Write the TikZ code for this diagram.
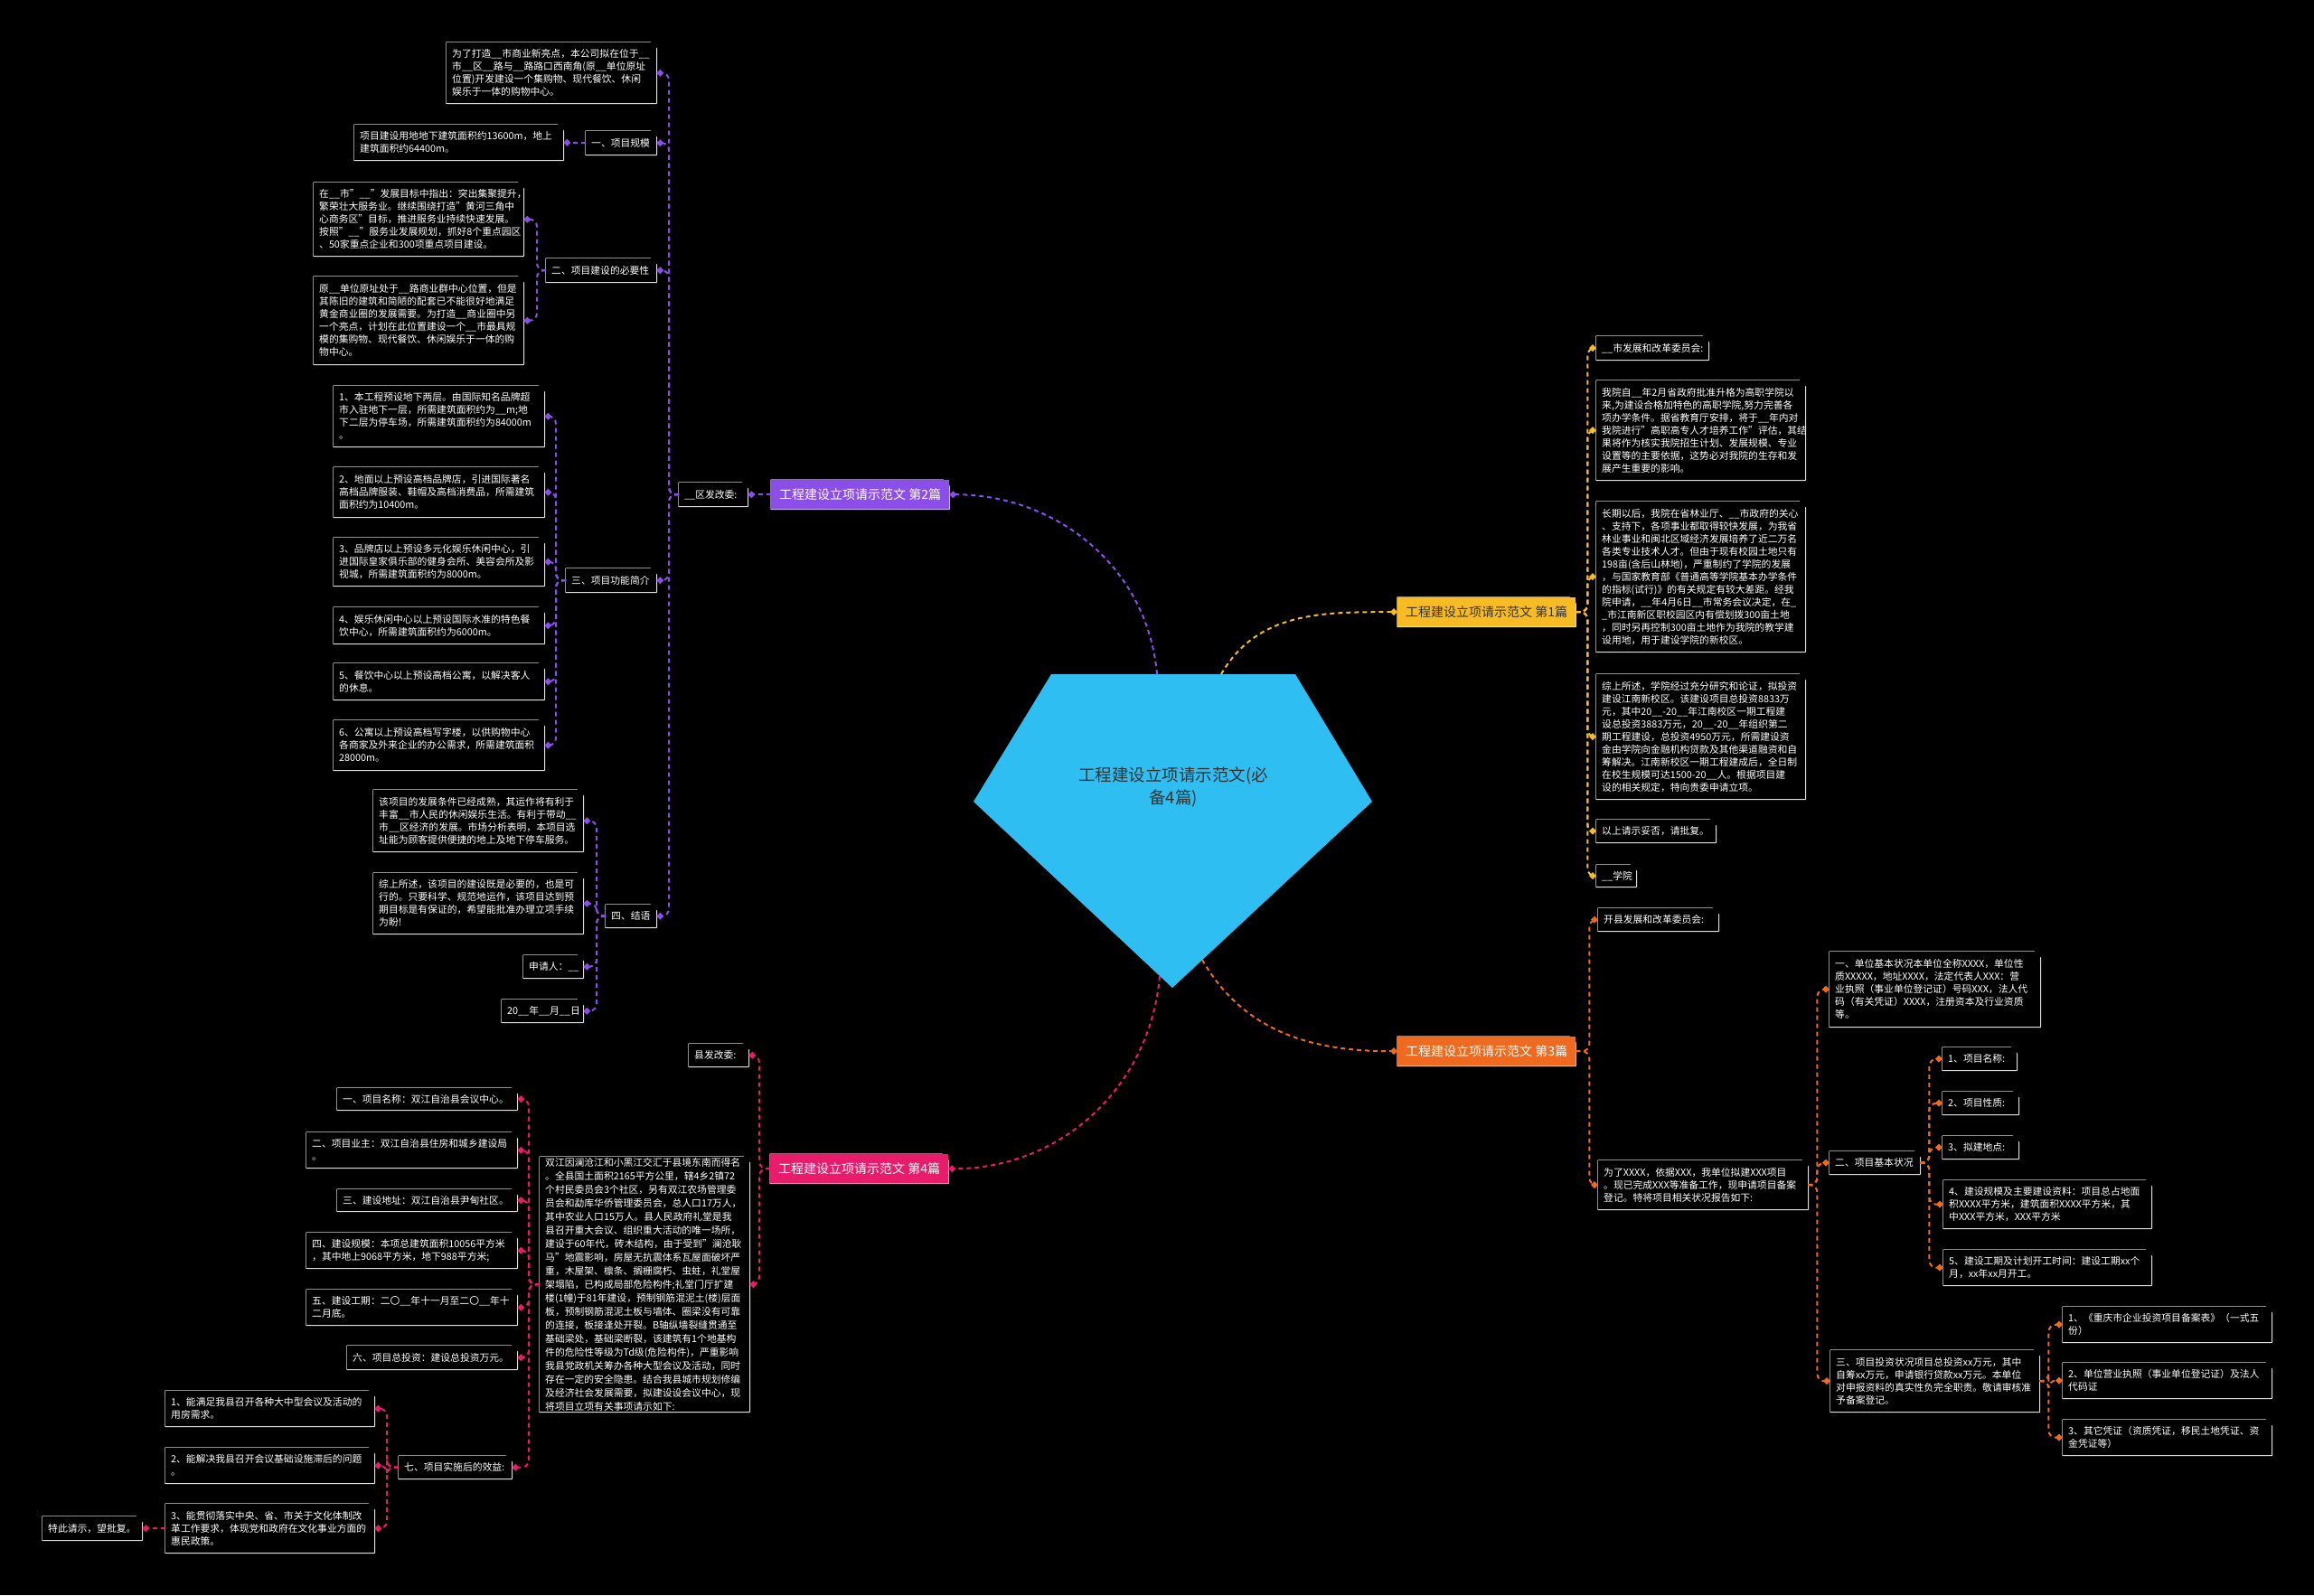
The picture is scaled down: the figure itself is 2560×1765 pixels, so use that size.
\documentclass[tikz,border=0pt]{standalone}
\usepackage{fontspec}
\setmainfont{Noto Sans CJK SC}
\usetikzlibrary{arrows.meta}

\definecolor{hubblue}{RGB}{46,190,242}
\definecolor{purp}{RGB}{139,78,232}
\definecolor{gold}{RGB}{247,187,36}
\definecolor{tang}{RGB}{239,106,30}
\definecolor{rose}{RGB}{233,28,108}
\definecolor{cardline}{RGB}{222,222,222}
\definecolor{inkdark}{RGB}{51,51,51}

\newcommand{\fillin}{\_\_}
\newcommand{\leaffont}{\fontsize{10.8}{14}\selectfont}
\newcommand{\longfont}{\fontsize{10.8}{15}\selectfont}
\newcommand{\topicfont}{\fontsize{14}{17}\selectfont}
\newcommand{\hubfont}{\fontsize{18.5}{25}\selectfont}

\begin{document}
\begin{tikzpicture}[x=1pt, y=-1pt,
  card/.style 2 args={rectangle, anchor=north west, inner xsep=6pt, inner ysep=0pt,
    align=left, fill=#1,
    append after command={\pgfextra{
      \fill[black] ([xshift=-7pt]\tikzlastnode.north east) -- (\tikzlastnode.north east)
        -- ([yshift=-7pt]\tikzlastnode.north east) -- cycle;
      \draw[#2, line width=1.3pt, line join=round] (\tikzlastnode.north west)
        -- ([xshift=-7pt]\tikzlastnode.north east) -- ([yshift=-7pt]\tikzlastnode.north east)
        -- (\tikzlastnode.south east) -- (\tikzlastnode.south west) -- cycle;}}},
  leaf/.style={card={black}{cardline}, text=white, font=\leaffont},
  topic/.style={card={#1}{#1!45!white}, inner xsep=9pt, minimum width=196pt,
    minimum height=32pt, align=center, font=\topicfont},
  link/.style={draw=#1, line width=2pt, dash pattern=on 5pt off 4pt,
    rounded corners=8pt, -{Diamond[length=8pt,width=8pt]}}
]
\fill[black] (0,0) rectangle (2560,1765);
\useasboundingbox (0,0) rectangle (2560,1765);

\fill[hubblue] (1163,746) -- (1433,746) -- (1518,887) -- (1297,1093) -- (1077,887) -- cycle;
\node[font=\hubfont, text=inkdark, align=center] (hub) at (1298,871) {工程建设立项请示范文(必\\备4篇)};
\coordinate (hub1) at (1351,746);
\coordinate (hub2) at (1280,746);
\coordinate (hub3) at (1330,1062);
\coordinate (hub4) at (1283,1080);

% branch 1
\node[topic=gold, text=inkdark] (b1) at (1546,661) {工程建设立项请示范文 第1篇};
\node[leaf, text width=112pt, minimum height=26pt] (r1a) at (1766,372) {\fillin{}市发展和改革委员会:};
\node[leaf, text width=219pt, minimum height=110pt] (r1b) at (1766,421) {我院自\fillin{}年2月省政府批准升格为高职学院以\\来,为建设合格加特色的高职学院,努力完善各\\项办学条件。据省教育厅安排，将于\fillin{}年内对\\我院进行"高职高专人才培养工作"评估，其结\\果将作为核实我院招生计划、发展规模、专业\\设置等的主要依据，这势必对我院的生存和发\\展产生重要的影响。};
\node[leaf, text width=219pt, minimum height=166pt] (r1c) at (1766,555) {长期以后，我院在省林业厅、\fillin{}市政府的关心\\、支持下，各项事业都取得较快发展，为我省\\林业事业和闽北区域经济发展培养了近二万名\\各类专业技术人才。但由于现有校园土地只有\\198亩(含后山林地)，严重制约了学院的发展\\，与国家教育部《普通高等学院基本办学条件\\的指标(试行)》的有关规定有较大差距。经我\\院申请，\fillin{}年4月6日\fillin{}市常务会议决定，在\_\\\_市江南新区职校园区内有偿划拨300亩土地\\，同时另再控制300亩土地作为我院的教学建\\设用地，用于建设学院的新校区。};
\node[leaf, text width=219pt, minimum height=138pt] (r1d) at (1766,746) {综上所述，学院经过充分研究和论证，拟投资\\建设江南新校区。该建设项目总投资8833万\\元，其中20\fillin{}-20\fillin{}年江南校区一期工程建\\设总投资3883万元，20\fillin{}-20\fillin{}年组织第二\\期工程建设，总投资4950万元，所需建设资\\金由学院向金融机构贷款及其他渠道融资和自\\筹解决。江南新校区一期工程建成后，全日制\\在校生规模可达1500-20\fillin{}人。根据项目建\\设的相关规定，特向贵委申请立项。};
\node[leaf, text width=120pt, minimum height=25pt] (r1e) at (1766,907) {以上请示妥否，请批复。};
\node[leaf, text width=32pt, minimum height=24pt] (r1f) at (1766,957) {\fillin{}学院};

% branch 2
\node[topic=purp, text=white] (b2) at (853,531) {工程建设立项请示范文 第2篇};
\node[leaf, text width=64pt, minimum height=26pt] (b2a) at (751,534) {\fillin{}区发改委:};
\node[leaf, text width=220pt, minimum height=67pt] (p2a) at (494,47) {为了打造\fillin{}市商业新亮点，本公司拟在位于\fillin{}\\市\fillin{}区\fillin{}路与\fillin{}路路口西南角(原\fillin{}单位原址\\位置)开发建设一个集购物、现代餐饮、休闲\\娱乐于一体的购物中心。};
\node[leaf, text width=66pt, minimum height=26pt] (p2b) at (648,145) {一、项目规模};
\node[leaf, text width=219pt, minimum height=39pt] (p2b1) at (392,138) {项目建设用地地下建筑面积约13600m，地上\\建筑面积约64400m。};
\node[leaf, text width=110pt, minimum height=26pt] (p2c) at (604,286) {二、项目建设的必要性};
\node[leaf, text width=220pt, minimum height=81pt] (p2c1) at (347,202) {在\fillin{}市"\fillin{}"发展目标中指出：突出集聚提升，\\繁荣壮大服务业。继续围绕打造"黄河三角中\\心商务区"目标，推进服务业持续快速发展。\\按照"\fillin{}"服务业发展规划，抓好8个重点园区\\、50家重点企业和300项重点项目建设。};
\node[leaf, text width=220pt, minimum height=97pt] (p2c2) at (347,306) {原\fillin{}单位原址处于\fillin{}路商业群中心位置，但是\\其陈旧的建筑和简陋的配套已不能很好地满足\\黄金商业圈的发展需要。为打造\fillin{}商业圈中另\\一个亮点，计划在此位置建设一个\fillin{}市最具规\\模的集购物、现代餐饮、休闲娱乐于一体的购\\物中心。};
\node[leaf, text width=88pt, minimum height=26pt] (p2d) at (626,629) {三、项目功能简介};
\node[leaf, text width=221pt, minimum height=67pt] (i1) at (369,427) {1、本工程预设地下两层。由国际知名品牌超\\市入驻地下一层，所需建筑面积约为\fillin{}m;地\\下二层为停车场，所需建筑面积约为84000m\\。};
\node[leaf, text width=221pt, minimum height=55pt] (i2) at (369,517) {2、地面以上预设高档品牌店，引进国际著名\\高档品牌服装、鞋帽及高档消费品，所需建筑\\面积约为10400m。};
\node[leaf, text width=221pt, minimum height=53pt] (i3) at (369,595) {3、品牌店以上预设多元化娱乐休闲中心，引\\进国际皇家俱乐部的健身会所、美容会所及影\\视城，所需建筑面积约为8000m。};
\node[leaf, text width=221pt, minimum height=40pt] (i4) at (369,672) {4、娱乐休闲中心以上预设国际水准的特色餐\\饮中心，所需建筑面积约为6000m。};
\node[leaf, text width=221pt, minimum height=40pt] (i5) at (369,734) {5、餐饮中心以上预设高档公寓，以解决客人\\的休息。};
\node[leaf, text width=221pt, minimum height=55pt] (i6) at (369,797) {6、公寓以上预设高档写字楼，以供购物中心\\各商家及外来企业的办公需求，所需建筑面积\\28000m。};
\node[leaf, text width=44pt, minimum height=25pt] (p2e) at (670,1001) {四、结语};
\node[leaf, text width=220pt, minimum height=68pt] (p2e1) at (413,874) {该项目的发展条件已经成熟，其运作将有利于\\丰富\fillin{}市人民的休闲娱乐生活。有利于带动\fillin{}\\市\fillin{}区经济的发展。市场分析表明，本项目选\\址能为顾客提供便捷的地上及地下停车服务。};
\node[leaf, text width=220pt, minimum height=67pt] (p2e2) at (413,966) {综上所述，该项目的建设既是必要的，也是可\\行的。只要科学、规范地运作，该项目达到预\\期目标是有保证的，希望能批准办理立项手续\\为盼!};
\node[leaf, text width=54pt, minimum height=25pt] (p2e3) at (579,1057) {申请人：\fillin};
\node[leaf, text width=78pt, minimum height=25pt] (p2e4) at (555,1106) {20\fillin{}年\fillin{}月\fillin{}日};

% branch 3
\node[topic=tang, text=white] (b3) at (1546,1147) {工程建设立项请示范文 第3篇};
\node[leaf, text width=121pt, minimum height=25pt] (r3a) at (1768,1005) {开县发展和改革委员会:};
\node[leaf, text width=220pt, minimum height=54pt] (r3b) at (1768,1284) {为了XXXX，依据XXX，我单位拟建XXX项目\\。现已完成XXX等准备工作，现申请项目备案\\登记。特将项目相关状况报告如下:};
\node[leaf, text width=221pt, minimum height=83pt] (r3b1) at (2024,1053) {一、单位基本状况本单位全称XXXX，单位性\\质XXXXX，地址XXXX，法定代表人XXX：营\\业执照（事业单位登记证）号码XXX，法人代\\码（有关凭证）XXXX，注册资本及行业资质\\等。};
\node[leaf, text width=88pt, minimum height=25pt] (r3b2) at (2024,1274) {二、项目基本状况};
\node[leaf, text width=70pt, minimum height=25pt] (r3b2a) at (2149,1159) {1、项目名称:};
\node[leaf, text width=72pt, minimum height=25pt] (r3b2b) at (2149,1208) {2、项目性质:};
\node[leaf, text width=72pt, minimum height=25pt] (r3b2c) at (2149,1257) {3、拟建地点:};
\node[leaf, text width=218pt, minimum height=53pt] (r3b2d) at (2150,1306) {4、建设规模及主要建设资料：项目总占地面\\积XXXX平方米，建筑面积XXXX平方米，其\\中XXX平方米，XXX平方米};
\node[leaf, text width=218pt, minimum height=39pt] (r3b2e) at (2150,1383) {5、建设工期及计划开工时间：建设工期xx个\\月，xx年xx月开工。};
\node[leaf, text width=219pt, minimum height=68pt] (r3b3) at (2025,1494) {三、项目投资状况项目总投资xx万元，其中\\自筹xx万元，申请银行贷款xx万元。本单位\\对申报资料的真实性负完全职责。敬请审核准\\予备案登记。};
\node[leaf, text width=219pt, minimum height=39pt] (r3b3a) at (2282,1446) {1、《重庆市企业投资项目备案表》（一式五\\份）};
\node[leaf, text width=219pt, minimum height=39pt] (r3b3b) at (2282,1508) {2、单位营业执照（事业单位登记证）及法人\\代码证};
\node[leaf, text width=219pt, minimum height=39pt] (r3b3c) at (2282,1571) {3、其它凭证（资质凭证，移民土地凭证、资\\金凭证等）};

% branch 4
\node[topic=rose, text=white] (b4) at (852,1277) {工程建设立项请示范文 第4篇};
\node[leaf, text width=54pt, minimum height=25pt] (p4a) at (762,1155) {县发改委:};
\node[leaf, font=\longfont, text width=220pt, minimum height=282pt] (p4b) at (597,1280) {双江因澜沧江和小黑江交汇于县境东南而得名\\。全县国土面积2165平方公里，辖4乡2镇72\\个村民委员会3个社区，另有双江农场管理委\\员会和勐库华侨管理委员会，总人口17万人，\\其中农业人口15万人。县人民政府礼堂是我\\县召开重大会议、组织重大活动的唯一场所，\\建设于60年代，砖木结构，由于受到"澜沧耿\\马"地震影响，房屋无抗震体系瓦屋面破坏严\\重，木屋架、檩条、搁栅腐朽、虫蛀，礼堂屋\\架塌陷，已构成局部危险构件;礼堂门厅扩建\\楼(1幢)于81年建设，预制钢筋混泥土(楼)层面\\板，预制钢筋混泥土板与墙体、圈梁没有可靠\\的连接，板接逢处开裂。B轴纵墙裂缝贯通至\\基础梁处，基础梁断裂，该建筑有1个地基构\\件的危险性等级为Td级(危险构件)，严重影响\\我县党政机关筹办各种大型会议及活动，同时\\存在一定的安全隐患。结合我县城市规划修编\\及经济社会发展需要，拟建设设会议中心，现\\将项目立项有关事项请示如下:};
\node[leaf, text width=187pt, minimum height=24pt] (p4b1) at (373,1204) {一、项目名称：双江自治县会议中心。};
\node[leaf, text width=221pt, minimum height=39pt] (p4b2) at (339,1253) {二、项目业主：双江自治县住房和城乡建设局\\。};
\node[leaf, text width=187pt, minimum height=24pt] (p4b3) at (373,1316) {三、建设地址：双江自治县尹甸社区。};
\node[leaf, text width=221pt, minimum height=39pt] (p4b4) at (339,1364) {四、建设规模：本项总建筑面积10056平方米\\，其中地上9068平方米，地下988平方米;};
\node[leaf, text width=221pt, minimum height=39pt] (p4b5) at (339,1427) {五、建设工期：二〇\fillin{}年十一月至二〇\fillin{}年十\\二月底。};
\node[leaf, text width=176pt, minimum height=26pt] (p4b6) at (384,1489) {六、项目总投资：建设总投资万元。};
\node[leaf, text width=113pt, minimum height=25pt] (p4b7) at (441,1611) {七、项目实施后的效益:};
\node[leaf, text width=219pt, minimum height=39pt] (p4b7a) at (183,1539) {1、能满足我县召开各种大中型会议及活动的\\用房需求。};
\node[leaf, text width=219pt, minimum height=39pt] (p4b7b) at (183,1602) {2、能解决我县召开会议基础设施滞后的问题\\。};
\node[leaf, text width=219pt, minimum height=54pt] (p4b7c) at (183,1664) {3、能贯彻落实中央、省、市关于文化体制改\\革工作要求，体现党和政府在文化事业方面的\\惠民政策。};
\node[leaf, text width=98pt, minimum height=26pt] (p4b7c1) at (47,1678) {特此请示，望批复。};

% connectors
\draw[link=gold] (hub1) to[out=60,in=180] (b1.west);
\draw[link=gold] (b1.east) -- ++(13,0) |- (r1a.west);
\draw[link=gold] (b1.east) -- ++(13,0) |- (r1b.west);
\draw[link=gold] (b1.east) -- ++(13,0) |- (r1c.west);
\draw[link=gold] (b1.east) -- ++(13,0) |- (r1d.west);
\draw[link=gold] (b1.east) -- ++(13,0) |- (r1e.west);
\draw[link=gold] (b1.east) -- ++(13,0) |- (r1f.west);

\draw[link=purp] (hub2) to[out=95,in=0] (b2.east);
\draw[link=purp] (b2.west) -- (b2a.east);
\draw[link=purp] (b2a.west) -- ++(-11,0) |- (p2a.east);
\draw[link=purp] (b2a.west) -- ++(-11,0) |- (p2b.east);
\draw[link=purp] (b2a.west) -- ++(-11,0) |- (p2c.east);
\draw[link=purp] (b2a.west) -- ++(-11,0) |- (p2d.east);
\draw[link=purp] (b2a.west) -- ++(-11,0) |- (p2e.east);
\draw[link=purp] (p2b.west) -- (p2b1.east);
\draw[link=purp] (p2c.west) -- ++(-10,0) |- (p2c1.east);
\draw[link=purp] (p2c.west) -- ++(-10,0) |- (p2c2.east);
\draw[link=purp] (p2d.west) -- ++(-11,0) |- (i1.east);
\draw[link=purp] (p2d.west) -- ++(-11,0) |- (i2.east);
\draw[link=purp] (p2d.west) -- ++(-11,0) |- (i3.east);
\draw[link=purp] (p2d.west) -- ++(-11,0) |- (i4.east);
\draw[link=purp] (p2d.west) -- ++(-11,0) |- (i5.east);
\draw[link=purp] (p2d.west) -- ++(-11,0) |- (i6.east);
\draw[link=purp] (p2e.west) -- ++(-10,0) |- (p2e1.east);
\draw[link=purp] (p2e.west) -- ++(-10,0) |- (p2e2.east);
\draw[link=purp] (p2e.west) -- ++(-10,0) |- (p2e3.east);
\draw[link=purp] (p2e.west) -- ++(-10,0) |- (p2e4.east);

\draw[link=tang] (hub3) to[out=-60,in=180] (b3.west);
\draw[link=tang] (b3.east) -- ++(15,0) |- (r3a.west);
\draw[link=tang] (b3.east) -- ++(15,0) |- (r3b.west);
\draw[link=tang] (r3b.east) -- ++(10,0) |- (r3b1.west);
\draw[link=tang] (r3b.east) -- ++(10,0) |- (r3b2.west);
\draw[link=tang] (r3b.east) -- ++(10,0) |- (r3b3.west);
\draw[link=tang] (r3b2.east) -- ++(10,0) |- (r3b2a.west);
\draw[link=tang] (r3b2.east) -- ++(10,0) |- (r3b2b.west);
\draw[link=tang] (r3b2.east) -- ++(10,0) |- (r3b2c.west);
\draw[link=tang] (r3b2.east) -- ++(10,0) |- (r3b2d.west);
\draw[link=tang] (r3b2.east) -- ++(10,0) |- (r3b2e.west);
\draw[link=tang] (r3b3.east) -- ++(10,0) |- (r3b3a.west);
\draw[link=tang] (r3b3.east) -- ++(10,0) |- (r3b3b.west);
\draw[link=tang] (r3b3.east) -- ++(10,0) |- (r3b3c.west);

\draw[link=rose] (hub4) to[out=-95,in=0] (b4.east);
\draw[link=rose] (b4.west) -- ++(-12,0) |- (p4a.east);
\draw[link=rose] (b4.west) -- ++(-12,0) |- (p4b.east);
\draw[link=rose] (p4b.west) -- ++(-12,0) |- (p4b1.east);
\draw[link=rose] (p4b.west) -- ++(-12,0) |- (p4b2.east);
\draw[link=rose] (p4b.west) -- ++(-12,0) |- (p4b3.east);
\draw[link=rose] (p4b.west) -- ++(-12,0) |- (p4b4.east);
\draw[link=rose] (p4b.west) -- ++(-12,0) |- (p4b5.east);
\draw[link=rose] (p4b.west) -- ++(-12,0) |- (p4b6.east);
\draw[link=rose] (p4b.west) -- ++(-12,0) |- (p4b7.east);
\draw[link=rose] (p4b7.west) -- ++(-13,0) |- (p4b7a.east);
\draw[link=rose] (p4b7.west) -- ++(-13,0) |- (p4b7b.east);
\draw[link=rose] (p4b7.west) -- ++(-13,0) |- (p4b7c.east);
\draw[link=rose] (p4b7c.west) -- (p4b7c1.east);
\end{tikzpicture}
\end{document}
